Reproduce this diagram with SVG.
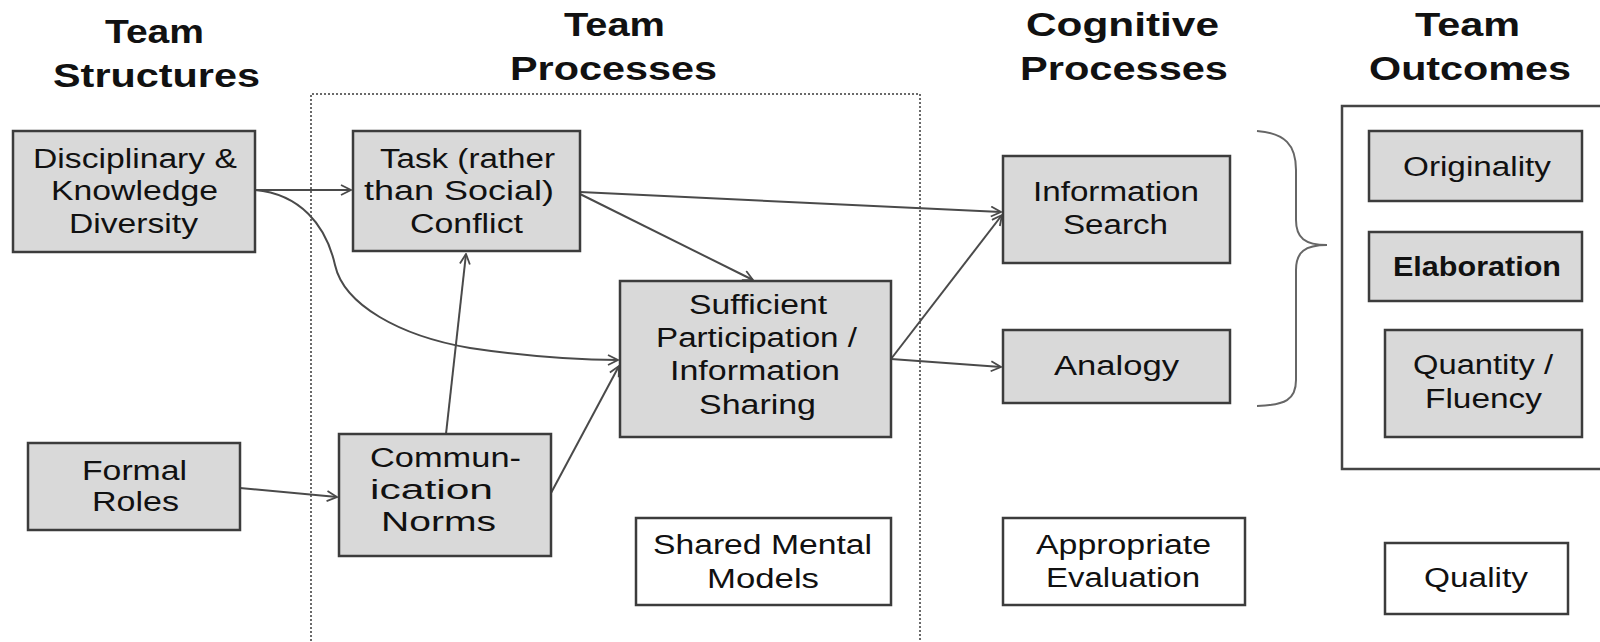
<svg xmlns="http://www.w3.org/2000/svg" width="1600" height="642" viewBox="0 0 1600 642">
<defs>
<style>
.h{font-family:"Liberation Sans",Arial,sans-serif;font-weight:bold;font-size:34px;fill:#111}
.t{font-family:"Liberation Sans",Arial,sans-serif;font-size:27px;fill:#111}
.g{fill:#d9d9d9;stroke:#3c3c3c;stroke-width:2.5}
.w{fill:#fff;stroke:#3c3c3c;stroke-width:2.5}
.c{fill:none;stroke:#4a4a4a;stroke-width:2}
</style>
<marker id="ah" viewBox="0 0 12 12" refX="11" refY="6" markerWidth="12" markerHeight="12" markerUnits="userSpaceOnUse" orient="auto">
<path d="M1,1 L11,6 L1,11" fill="none" stroke="#4a4a4a" stroke-width="1.8"/>
</marker>
</defs>
<rect width="1600" height="642" fill="#fff"/>

<g id="headings">
<text class="h" x="105" y="43" textLength="99" lengthAdjust="spacingAndGlyphs">Team</text>
<text class="h" x="53" y="87" textLength="207" lengthAdjust="spacingAndGlyphs">Structures</text>
<text class="h" x="564" y="36" textLength="101" lengthAdjust="spacingAndGlyphs">Team</text>
<text class="h" x="510" y="80" textLength="207" lengthAdjust="spacingAndGlyphs">Processes</text>
<text class="h" x="1026" y="36" textLength="193" lengthAdjust="spacingAndGlyphs">Cognitive</text>
<text class="h" x="1020" y="80" textLength="208" lengthAdjust="spacingAndGlyphs">Processes</text>
<text class="h" x="1415" y="36" textLength="105" lengthAdjust="spacingAndGlyphs">Team</text>
<text class="h" x="1369" y="80" textLength="202" lengthAdjust="spacingAndGlyphs">Outcomes</text>
</g>

<g id="team-processes-frame">
<path d="M311,645 L311,94 L920,94 L920,645" fill="none" stroke="#6a6a6a" stroke-width="2" stroke-dasharray="2,2"/>
</g>

<g id="team-outcomes-frame">
<rect x="1342" y="106" width="270" height="363" fill="none" stroke="#444" stroke-width="2.5"/>
</g>

<g id="brace">
<path d="M1257,131 C1285,133 1296,145 1296,170 L1296,220 C1296,238 1305,245 1327,245 C1305,245 1296,252 1296,270 L1296,380 C1296,400 1285,405 1257,406" fill="none" stroke="#666" stroke-width="2"/>
</g>

<g id="connectors">
<line class="c" x1="255" y1="190" x2="351" y2="190" marker-end="url(#ah)"/>
<path class="c" d="M255,190 C300,194 326,225 335,265 C344,305 400,336 470,348 C530,357 580,360 618,360" marker-end="url(#ah)"/>
<line class="c" x1="580" y1="192" x2="1001" y2="212" marker-end="url(#ah)"/>
<line class="c" x1="580" y1="194" x2="753" y2="280" marker-end="url(#ah)"/>
<line class="c" x1="446" y1="434" x2="466" y2="254" marker-end="url(#ah)"/>
<line class="c" x1="240" y1="488" x2="337" y2="497" marker-end="url(#ah)"/>
<line class="c" x1="551" y1="493" x2="619" y2="366" marker-end="url(#ah)"/>
<line class="c" x1="891" y1="359" x2="1002" y2="215" marker-end="url(#ah)"/>
<line class="c" x1="891" y1="359" x2="1001" y2="367" marker-end="url(#ah)"/>
</g>

<g id="disciplinary-diversity">
<rect class="g" x="13" y="131" width="242" height="121"/>
<text class="t" x="33" y="168" textLength="204" lengthAdjust="spacingAndGlyphs">Disciplinary &amp;</text>
<text class="t" x="51" y="200" textLength="167" lengthAdjust="spacingAndGlyphs">Knowledge</text>
<text class="t" x="69" y="233" textLength="129" lengthAdjust="spacingAndGlyphs">Diversity</text>
</g>

<g id="formal-roles">
<rect class="g" x="28" y="443" width="212" height="87"/>
<text class="t" x="82" y="480" textLength="105" lengthAdjust="spacingAndGlyphs">Formal</text>
<text class="t" x="92" y="511" textLength="87" lengthAdjust="spacingAndGlyphs">Roles</text>
</g>

<g id="task-conflict">
<rect class="g" x="353" y="131" width="227" height="120"/>
<text class="t" x="380" y="168" textLength="175" lengthAdjust="spacingAndGlyphs">Task (rather</text>
<text class="t" x="364" y="200" textLength="190" lengthAdjust="spacingAndGlyphs">than Social)</text>
<text class="t" x="410" y="233" textLength="113" lengthAdjust="spacingAndGlyphs">Conflict</text>
</g>

<g id="communication-norms">
<rect class="g" x="339" y="434" width="212" height="122"/>
<text class="t" x="370" y="467" textLength="151" lengthAdjust="spacingAndGlyphs">Commun-</text>
<text class="t" x="370" y="499" textLength="123" lengthAdjust="spacingAndGlyphs">ication</text>
<text class="t" x="381" y="531" textLength="115" lengthAdjust="spacingAndGlyphs">Norms</text>
</g>

<g id="sufficient-participation">
<rect class="g" x="620" y="281" width="271" height="156"/>
<text class="t" x="689" y="314" textLength="138" lengthAdjust="spacingAndGlyphs">Sufficient</text>
<text class="t" x="656" y="347" textLength="201" lengthAdjust="spacingAndGlyphs">Participation /</text>
<text class="t" x="670" y="380" textLength="170" lengthAdjust="spacingAndGlyphs">Information</text>
<text class="t" x="699" y="414" textLength="117" lengthAdjust="spacingAndGlyphs">Sharing</text>
</g>

<g id="shared-mental-models">
<rect class="w" x="636" y="518" width="255" height="87"/>
<text class="t" x="653" y="554" textLength="219" lengthAdjust="spacingAndGlyphs">Shared Mental</text>
<text class="t" x="707" y="588" textLength="112" lengthAdjust="spacingAndGlyphs">Models</text>
</g>

<g id="information-search">
<rect class="g" x="1003" y="156" width="227" height="107"/>
<text class="t" x="1033" y="201" textLength="166" lengthAdjust="spacingAndGlyphs">Information</text>
<text class="t" x="1063" y="234" textLength="105" lengthAdjust="spacingAndGlyphs">Search</text>
</g>

<g id="analogy">
<rect class="g" x="1003" y="330" width="227" height="73"/>
<text class="t" x="1054" y="375" textLength="125" lengthAdjust="spacingAndGlyphs">Analogy</text>
</g>

<g id="appropriate-evaluation">
<rect class="w" x="1003" y="518" width="242" height="87"/>
<text class="t" x="1036" y="554" textLength="175" lengthAdjust="spacingAndGlyphs">Appropriate</text>
<text class="t" x="1046" y="587" textLength="154" lengthAdjust="spacingAndGlyphs">Evaluation</text>
</g>

<g id="originality">
<rect class="g" x="1369" y="131" width="213" height="70"/>
<text class="t" x="1403" y="176" textLength="148" lengthAdjust="spacingAndGlyphs">Originality</text>
</g>

<g id="elaboration">
<rect class="g" x="1369" y="232" width="213" height="69"/>
<text class="t" x="1393" y="276" textLength="168" lengthAdjust="spacingAndGlyphs" font-weight="bold">Elaboration</text>
</g>

<g id="quantity-fluency">
<rect class="g" x="1385" y="330" width="197" height="107"/>
<text class="t" x="1413" y="374" textLength="140" lengthAdjust="spacingAndGlyphs">Quantity /</text>
<text class="t" x="1425" y="408" textLength="117" lengthAdjust="spacingAndGlyphs">Fluency</text>
</g>

<g id="quality">
<rect class="w" x="1385" y="543" width="183" height="71"/>
<text class="t" x="1424" y="587" textLength="104" lengthAdjust="spacingAndGlyphs">Quality</text>
</g>
</svg>
